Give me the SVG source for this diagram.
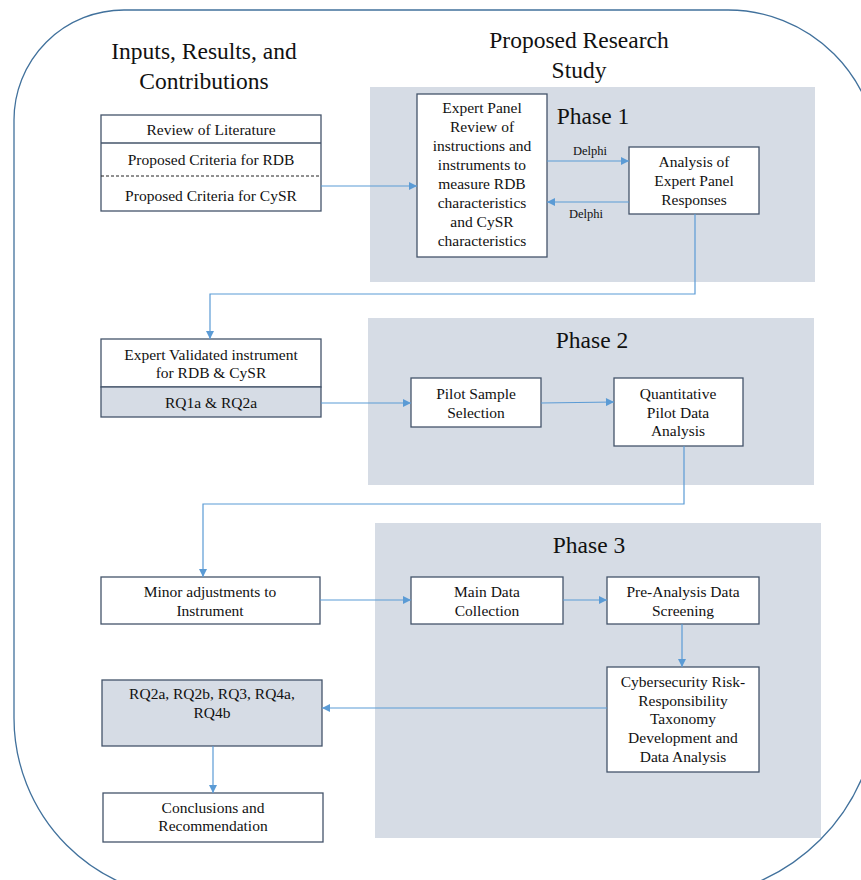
<svg xmlns="http://www.w3.org/2000/svg" width="861" height="880" viewBox="0 0 861 880">
<defs>
<marker id="ah" viewBox="0 0 10 10" refX="10" refY="5" markerUnits="userSpaceOnUse" markerWidth="9" markerHeight="8" orient="auto">
<path d="M0,0 L10,5 L0,10 z" fill="#5b9bd5"/>
</marker>
</defs>
<style>
text{font-family:"Liberation Serif","Times New Roman",serif;fill:#111;text-anchor:middle}
.h{font-size:23.5px}
.t{font-size:15.5px}
.d{font-size:12.5px}
.box{fill:#fff;stroke:#44546a;stroke-width:1.3}
.gbox{fill:#d6dce5;stroke:#44546a;stroke-width:1.3}
.panel{fill:#d6dce5}
.c{fill:none;stroke:#5b9bd5;stroke-width:1.2}
.ca{fill:none;stroke:#5b9bd5;stroke-width:1.2;marker-end:url(#ah)}
</style>
<rect width="861" height="880" fill="#fff"/>
<path d="M124 10 H728 A150 150 0 0 1 878 160 V700 A198 198 0 0 1 680 898 H194 A180 180 0 0 1 14 718 V120 A110 110 0 0 1 124 10 Z" fill="none" stroke="#41719c" stroke-width="1.3"/>

<g id="headers">
<text class="h" x="204" y="59">Inputs, Results, and</text>
<text class="h" x="204" y="89">Contributions</text>
<text class="h" x="579" y="48">Proposed Research</text>
<text class="h" x="579" y="78">Study</text>
</g>

<g id="phase1">
<rect class="panel" x="370" y="87" width="445" height="195"/>
<text class="h" x="593" y="124">Phase 1</text>
</g>
<g id="phase2">
<rect class="panel" x="368" y="318" width="446" height="167"/>
<text class="h" x="592" y="348">Phase 2</text>
</g>
<g id="phase3">
<rect class="panel" x="375" y="523" width="446" height="315"/>
<text class="h" x="589" y="553">Phase 3</text>
</g>

<g id="inputs">
<rect class="box" x="101" y="115" width="220" height="96"/>
<line x1="101" y1="143" x2="321" y2="143" stroke="#44546a" stroke-width="1.3"/>
<line x1="101" y1="176" x2="321" y2="176" stroke="#222" stroke-width="1" stroke-dasharray="3,2"/>
<text class="t" x="211" y="135">Review of Literature</text>
<text class="t" x="211" y="165">Proposed Criteria for RDB</text>
<text class="t" x="211" y="201">Proposed Criteria for CySR</text>
</g>

<g id="expert-panel">
<rect class="box" x="417" y="94" width="130" height="163"/>
<text class="t" x="482" y="113">Expert Panel</text>
<text class="t" x="482" y="132">Review of</text>
<text class="t" x="482" y="151">instructions and</text>
<text class="t" x="482" y="170">instruments to</text>
<text class="t" x="482" y="189">measure RDB</text>
<text class="t" x="482" y="208">characteristics</text>
<text class="t" x="482" y="227">and CySR</text>
<text class="t" x="482" y="246">characteristics</text>
</g>

<g id="analysis">
<rect class="box" x="629" y="147" width="130" height="67"/>
<text class="t" x="694" y="167">Analysis of</text>
<text class="t" x="694" y="186">Expert Panel</text>
<text class="t" x="694" y="205">Responses</text>
</g>

<g id="validated">
<rect class="box" x="101" y="339" width="220" height="48"/>
<rect class="gbox" x="101" y="387" width="220" height="30"/>
<text class="t" x="211" y="360">Expert Validated instrument</text>
<text class="t" x="211" y="378">for RDB &amp; CySR</text>
<text class="t" x="211" y="408">RQ1a &amp; RQ2a</text>
</g>

<g id="pilot-sample">
<rect class="box" x="411" y="378" width="130" height="49"/>
<text class="t" x="476" y="399">Pilot Sample</text>
<text class="t" x="476" y="418">Selection</text>
</g>

<g id="quantitative">
<rect class="box" x="614" y="378" width="129" height="68"/>
<text class="t" x="678" y="399">Quantitative</text>
<text class="t" x="678" y="418">Pilot Data</text>
<text class="t" x="678" y="436">Analysis</text>
</g>

<g id="minor">
<rect class="box" x="101" y="577" width="219" height="47"/>
<text class="t" x="210" y="597">Minor adjustments to</text>
<text class="t" x="210" y="616">Instrument</text>
</g>

<g id="main-data">
<rect class="box" x="411" y="577" width="152" height="47"/>
<text class="t" x="487" y="597">Main Data</text>
<text class="t" x="487" y="616">Collection</text>
</g>

<g id="pre-analysis">
<rect class="box" x="607" y="577" width="152" height="47"/>
<text class="t" x="683" y="597">Pre-Analysis Data</text>
<text class="t" x="683" y="616">Screening</text>
</g>

<g id="taxonomy">
<rect class="box" x="607" y="667" width="152" height="105"/>
<text class="t" x="683" y="687">Cybersecurity Risk-</text>
<text class="t" x="683" y="706">Responsibility</text>
<text class="t" x="683" y="724">Taxonomy</text>
<text class="t" x="683" y="743">Development and</text>
<text class="t" x="683" y="762">Data Analysis</text>
</g>

<g id="rq-results">
<rect class="gbox" x="102" y="680" width="220" height="66"/>
<text class="t" x="212" y="699">RQ2a, RQ2b, RQ3, RQ4a,</text>
<text class="t" x="212" y="718">RQ4b</text>
</g>

<g id="conclusions">
<rect class="box" x="103" y="793" width="220" height="49"/>
<text class="t" x="213" y="813">Conclusions and</text>
<text class="t" x="213" y="831">Recommendation</text>
</g>

<g id="connectors">
<line class="ca" x1="321" y1="186" x2="417" y2="186"/>
<line class="ca" x1="547" y1="161" x2="629" y2="161"/>
<text class="d" x="590" y="155">Delphi</text>
<line class="ca" x1="629" y1="202" x2="547" y2="202"/>
<text class="d" x="586" y="218">Delphi</text>
<polyline class="ca" points="695,214 695,294 210,294 210,339"/>
<line class="ca" x1="321" y1="403" x2="411" y2="403"/>
<line class="ca" x1="541" y1="403" x2="614" y2="402"/>
<polyline class="ca" points="684,446 684,504 203,504 203,577"/>
<line class="ca" x1="320" y1="600" x2="411" y2="600"/>
<line class="ca" x1="563" y1="600" x2="607" y2="600"/>
<line class="ca" x1="682" y1="624" x2="682" y2="667"/>
<line class="ca" x1="607" y1="708" x2="322" y2="708"/>
<line class="ca" x1="213" y1="746" x2="213" y2="793"/>
</g>
</svg>
